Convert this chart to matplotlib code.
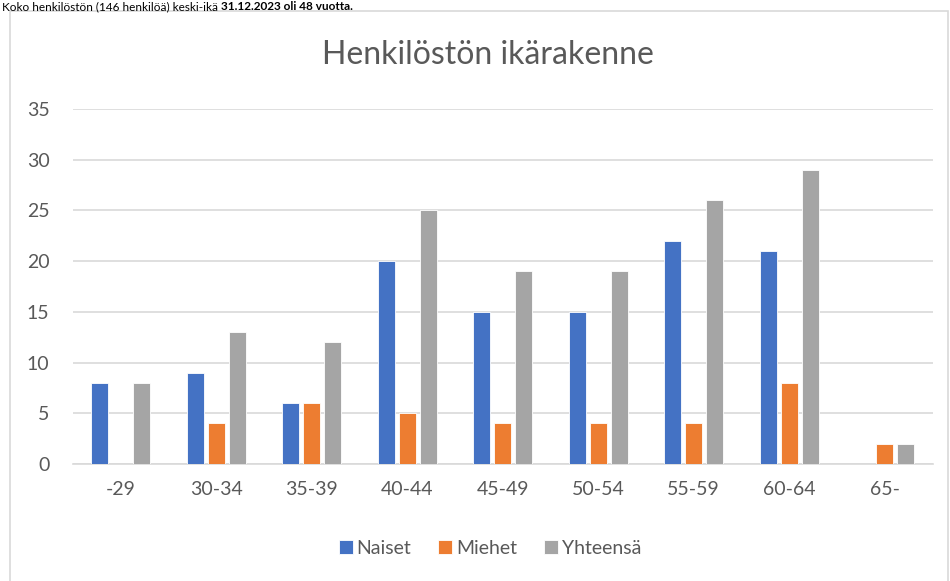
import numpy as np
import matplotlib
matplotlib.use("Agg")
import matplotlib.pyplot as plt
from matplotlib.patches import Rectangle

categories = ["-29", "30-34", "35-39", "40-44", "45-49", "50-54", "55-59", "60-64", "65-"]
naiset = [8, 9, 6, 20, 15, 15, 22, 21, None]
miehet = [None, 4, 6, 5, 4, 4, 4, 8, 2]
yhteensa = [8, 13, 12, 25, 19, 19, 26, 29, 2]
series_names = ["Naiset", "Miehet", "Yhteensä"]
colors = ["#4472C4", "#ED7D31", "#A5A5A5"]
yticks = [0, 5, 10, 15, 20, 25, 30, 35]
title = "Henkilöstön ikärakenne"
top_text_regular = "Koko henkilöstön (146 henkilöä) keski-ikä "
top_text_bold = "31.12.2023 oli 48 vuotta."

plt.rcParams['font.family'] = ['Lato', 'DejaVu Sans']

W, H = 950, 581
fig = plt.figure(figsize=(W / 100, H / 100), dpi=100)

# chart frame
fig.patches.append(Rectangle((10 / W, -0.1), (948 - 10) / W, 1.1 - 11 / H,
                             transform=fig.transFigure, fill=False,
                             edgecolor="#D9D9D9", linewidth=1.2, zorder=0))

# top caption (above the chart frame)
t1 = fig.text(2 / W, 1 - 10 / H, top_text_regular, fontsize=8.5, color="#000000",
              ha="left", va="baseline")
fig.canvas.draw()
bb = t1.get_window_extent()
fig.text(bb.x1 / W, 1 - 10 / H, top_text_bold, fontsize=8.5, color="#000000",
         ha="left", va="baseline", fontweight="bold")

ax = fig.add_axes([73 / W, 1 - 464 / H, (932.5 - 73) / W, (464 - 109) / H])
x = np.arange(len(categories))
bw = 0.178
off = 0.22
data = [naiset, miehet, yhteensa]
for i, (vals, name, c) in enumerate(zip(data, series_names, colors)):
    v = np.array([np.nan if a is None else a for a in vals], dtype=float)
    ax.bar(x + (i - 1) * off, v, width=bw, color=c, label=name,
           edgecolor="white", linewidth=0.6, zorder=3)

ax.set_xlim(-0.5, len(categories) - 0.5)
ax.set_ylim(0, 35)
ax.set_yticks(yticks)
ax.set_xticks(x)
ax.set_xticklabels(categories)
ax.yaxis.grid(True, color="#D9D9D9", linewidth=1.2, zorder=0)
ax.set_axisbelow(True)
for s in ["top", "right", "left"]:
    ax.spines[s].set_visible(False)
ax.spines["bottom"].set_color("#D9D9D9")
ax.spines["bottom"].set_linewidth(1.2)
ax.tick_params(axis="both", length=0, labelsize=14, labelcolor="#595959")
ax.tick_params(axis="x", pad=12)
ax.tick_params(axis="y", pad=17)

fig.text(488 / W, 1 - 55 / H, title, fontsize=23, color="#595959",
         ha="center", va="center")

leg = fig.legend(loc="center", bbox_to_anchor=(490 / W, 1 - 548 / H), ncol=3,
                 frameon=False, fontsize=14, handlelength=0.7, handleheight=0.7,
                 handletextpad=0.2, columnspacing=1.4, labelcolor="#595959")

fig.savefig("out.png", dpi=100)
